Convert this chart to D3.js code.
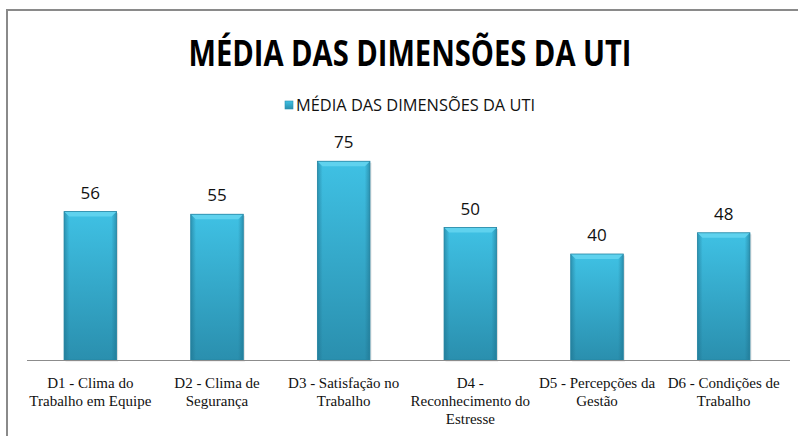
<!DOCTYPE html>
<html>
<head>
<meta charset="utf-8">
<script src="https://cdn.jsdelivr.net/npm/d3@7"></script>
<style>
  body { margin: 0; background: #fff; }
  svg { display: block; }
</style>
</head>
<body>
<div id="chart"></div>
<script>
// data
const categories = [
    ["D1 - Clima do", "Trabalho em Equipe"],
    ["D2 - Clima de", "Segurança"],
    ["D3 - Satisfação no", "Trabalho"],
    ["D4 -", "Reconhecimento do", "Estresse"],
    ["D5 - Percepções da", "Gestão"],
    ["D6 - Condições de", "Trabalho"]
]
const values = [56, 55, 75, 50, 40, 48]
const seriesName = "MÉDIA DAS DIMENSÕES DA UTI"
const title = "MÉDIA DAS DIMENSÕES DA UTI"

const width = 798, height = 436
const plot = {left: 27, right: 787, top: 148, bottom: 360}

const svg = d3.select("#chart")
    .append("svg")
    .attr("width", width)
    .attr("height", height)

// Gradients for the bevelled bars
const defs = svg.append("defs")
const grad = defs.append("linearGradient")
    .attr("id", "barFill")
    .attr("x1", 0).attr("y1", 0).attr("x2", 0).attr("y2", 1)
grad.append("stop").attr("offset", "0%").attr("stop-color", "#3fc1e4")
grad.append("stop").attr("offset", "100%").attr("stop-color", "#2a8fae")

const side = defs.append("linearGradient")
    .attr("id", "barSide")
    .attr("x1", 0).attr("y1", 0).attr("x2", 1).attr("y2", 0)
side.append("stop").attr("offset", "0%").attr("stop-color", "#1d6f8a").attr("stop-opacity", 0.55)
side.append("stop").attr("offset", "10%").attr("stop-color", "#1d6f8a").attr("stop-opacity", 0)
side.append("stop").attr("offset", "90%").attr("stop-color", "#1d6f8a").attr("stop-opacity", 0)
side.append("stop").attr("offset", "100%").attr("stop-color", "#1d6f8a").attr("stop-opacity", 0.55)

// Frame (cropped at right and bottom)
svg.append("path")
    .attr("d", `M7,${height} V10 H${width}`)
    .attr("fill", "none")
    .attr("stroke", "#8a8a8a")
    .attr("stroke-width", 2)

// Title
svg.append("text")
    .attr("x", 410)
    .attr("y", 66)
    .attr("text-anchor", "middle")
    .attr("font-family", "'Open Sans', sans-serif")
    .attr("font-weight", "bold")
    .attr("font-size", 36)
    .attr("textLength", 443)
    .attr("lengthAdjust", "spacingAndGlyphs")
    .attr("fill", "#000")
    .text(title)

// Legend
const legend = svg.append("g")
legend.append("rect")
    .attr("x", 285).attr("y", 101)
    .attr("width", 8).attr("height", 8)
    .attr("fill", "url(#barFill)")
    .attr("stroke", "#2a8fae")
    .attr("stroke-width", 0.6)
legend.append("text")
    .attr("x", 296)
    .attr("y", 111)
    .attr("font-family", "'Open Sans', sans-serif")
    .attr("font-size", 16)
    .attr("textLength", 239)
    .attr("lengthAdjust", "spacingAndGlyphs")
    .attr("fill", "#111")
    .text(seriesName)

// Scales
const x = d3.scaleBand()
    .domain(d3.range(categories.length))
    .range([plot.left, plot.right])
    .paddingInner(0.585)
    .paddingOuter(0.2925)

const y = d3.scaleLinear()
    .domain([0, 80])
    .range([plot.bottom, plot.top])

// Bars
const bars = svg.append("g")
    .selectAll("g")
    .data(values)
    .join("g")
    .attr("transform", (d, i) => `translate(${x(i)},0)`)

bars.append("rect")
    .attr("x", 1.5)
    .attr("y", d => y(d) + 1.5)
    .attr("width", x.bandwidth())
    .attr("height", d => y(0) - y(d))
    .attr("fill", "#000")
    .attr("opacity", 0.12)

bars.append("rect")
    .attr("y", d => y(d))
    .attr("width", x.bandwidth())
    .attr("height", d => y(0) - y(d))
    .attr("fill", "url(#barFill)")

bars.append("rect")
    .attr("y", d => y(d))
    .attr("width", x.bandwidth())
    .attr("height", d => y(0) - y(d))
    .attr("fill", "url(#barSide)")

// top bevel
bars.append("path")
    .attr("d", d => {
        const w = x.bandwidth(), t = y(d), b = 5
        return `M0,${t} H${w} L${w - b},${t + b} H${b} Z`
    })
    .attr("fill", "#5fd2ee")

bars.append("rect")
    .attr("y", d => y(d))
    .attr("width", x.bandwidth())
    .attr("height", d => y(0) - y(d))
    .attr("fill", "none")
    .attr("stroke", "#2585a3")
    .attr("stroke-width", 0.8)

// Value labels
svg.append("g")
    .selectAll("text")
    .data(values)
    .join("text")
    .attr("x", (d, i) => x(i) + x.bandwidth() / 2)
    .attr("y", d => y(d) - 13)
    .attr("text-anchor", "middle")
    .attr("font-family", "'Open Sans', sans-serif")
    .attr("font-size", 17)
    .attr("fill", "#111")
    .text(d => d)

// Baseline
svg.append("line")
    .attr("x1", plot.left).attr("x2", plot.right + 3)
    .attr("y1", plot.bottom + 0.5).attr("y2", plot.bottom + 0.5)
    .attr("stroke", "#8c8c8c")
    .attr("stroke-width", 1)

// Category labels
const catLabels = svg.append("g")
    .selectAll("text")
    .data(categories)
    .join("text")
    .attr("x", (d, i) => x(i) + x.bandwidth() / 2)
    .attr("y", 388)
    .attr("text-anchor", "middle")
    .attr("font-family", "'Liberation Serif', 'Times New Roman', serif")
    .attr("font-size", 15)
    .attr("fill", "#111")

catLabels.selectAll("tspan")
    .data(d => d)
    .join("tspan")
    .attr("x", function () { return this.parentNode.getAttribute("x") })
    .attr("dy", (d, i) => i === 0 ? 0 : 18)
    .text(d => d)
</script>
</body>
</html>
